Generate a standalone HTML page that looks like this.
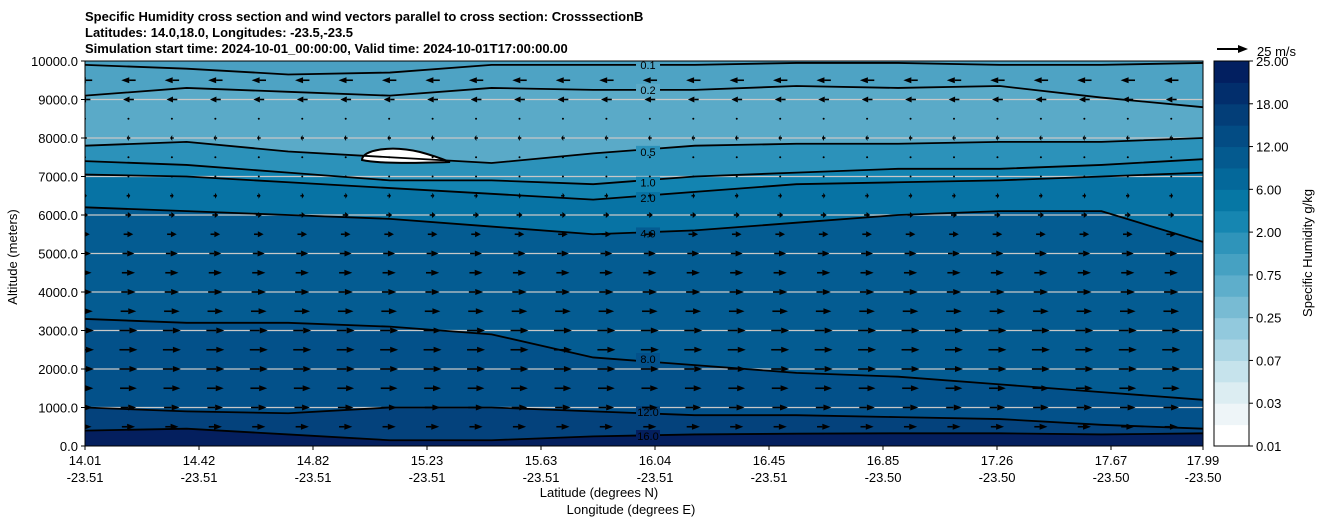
<!DOCTYPE html>
<html><head><meta charset="utf-8"><style>
body{margin:0;background:#fff;}
svg{display:block;font-family:"Liberation Sans","DejaVu Sans",sans-serif;}
</style></head><body>
<svg id="chart" width="1326" height="526" viewBox="0 0 1326 526" xmlns="http://www.w3.org/2000/svg">
<g font-size="13" font-weight="bold" fill="#000">
<text x="85" y="21">Specific Humidity cross section and wind vectors parallel to cross section: CrosssectionB</text>
<text x="85" y="37">Latitudes: 14.0,18.0, Longitudes: -23.5,-23.5</text>
<text x="85" y="53">Simulation start time: 2024-10-01_00:00:00, Valid time: 2024-10-01T17:00:00.00</text>
</g>
<defs><clipPath id="pc"><rect x="85" y="61" width="1118" height="385"/></clipPath></defs>
<g id="fills" clip-path="url(#pc)"></g>
<g id="grid"></g>
<g id="lines" clip-path="url(#pc)"></g>
<g id="quiver" clip-path="url(#pc)"></g>
<g id="axes"></g>
<g id="cbar"></g>
<text x="13" y="253" font-size="13" transform="rotate(-90 17 253)" text-anchor="middle">Altitude (meters)</text>
<text x="599" y="497" font-size="13" text-anchor="middle">Latitude (degrees N)</text>
<text x="631" y="514" font-size="13" text-anchor="middle">Longitude (degrees E)</text>
<text x="1312" y="253" font-size="13" transform="rotate(-90 1312 253)" text-anchor="middle">Specific Humidity g/kg</text>
<g>
<line x1="1217" y1="49" x2="1240" y2="49" stroke="#000" stroke-width="2"/>
<polygon points="1248,49 1238,45 1238,53" fill="#000"/>
<text x="1257" y="56" font-size="13">25 m/s</text>
</g>
</svg>
<script>
const latLabels=["14.01","14.42","14.82","15.23","15.63","16.04","16.45","16.85","17.26","17.67","17.99"];
const lonLabels=["-23.51","-23.51","-23.51","-23.51","-23.51","-23.51","-23.51","-23.50","-23.50","-23.50","-23.50"];
const yTicks=[0,1000,2000,3000,4000,5000,6000,7000,8000,9000,10000];
const cbLevels=[0.01,0.02,0.03,0.05,0.07,0.1,0.25,0.5,0.75,1,2,4,6,8,12,16,18,20,25];
const cbLabels=["0.01","0.03","0.07","0.25","0.75","2.00","6.00","12.00","18.00","25.00"];
const cbColors=["#ffffff","#eef5f8","#dcedf2","#c6e3ec","#acd6e4","#92c9dd","#78bbd3","#5eaecb","#46a1c2","#2f94ba","#1686b1","#0677a4","#04689a","#045a8f","#034c84","#033e78","#022e6c","#021f60","#020f52"];
const contourLevels=["0.1","0.2","0.5","1.0","2.0","4.0","8.0","12.0","16.0"];
const c01=[9900,9800,9650,9700,9900,9900,9900,9950,9950,9900,9900,9950];
const c02=[9100,9300,9200,9100,9300,9250,9250,9350,9300,9350,9050,8800];
const c05=[7800,7900,7650,7500,7350,7600,7800,7850,7850,7900,7900,8000];
const c10=[7400,7300,7100,6900,6900,6800,7000,7100,7200,7200,7300,7450];
const c20=[7050,7000,6850,6700,6550,6400,6600,6800,6850,6900,7000,7100];
const c40=[6200,6100,6000,5900,5700,5500,5600,5800,6000,6100,6100,5300];
const c80=[3300,3200,3200,3100,2900,2300,2100,1900,1800,1600,1400,1200];
const c120=[1000,900,850,1000,1000,900,800,800,750,700,550,450];
const c160=[400,450,300,150,150,250,300,320,330,330,300,330];
const regionColors=["#4ea3c4","#5aaac8","#2c92ba","#1384b1","#0773a4","#045c92","#03518a","#04427c","#041f5e"];
const windAlts=[500,1000,1500,2000,2500,3000,3500,4000,4500,5000,5500,6000,6500,7000,7500,8000,8500,9000,9500];
const windU=[11,13,14,15,15,15,13,12,11,10,8,5,3,1,0.5,-3,-1,-9,-12];

const NS="http://www.w3.org/2000/svg";
const X0=85,X1=1203,Y0=446,Y1=61;
const xS=i=>X0+(X1-X0)*i/11;
const xT=i=>i<10?X0+114*i:X1;
const yS=a=>Y0-(Y0-Y1)*a/10000;
function mk(t,at,p){const e=document.createElementNS(NS,t);for(const k in at)e.setAttribute(k,at[k]);p.appendChild(e);return e;}
const contours=[c01,c02,c05,c10,c20,c40,c80,c120,c160];
const fills=document.getElementById('fills');
let bg=mk('rect',{x:X0,y:Y1,width:X1-X0,height:Y0-Y1,fill:"#4aa0c2"},fills);


function pts(arr){return arr.map((a,i)=>xS(i)+','+yS(a)).join(' ');}
contours.forEach((c,k)=>{
  const poly=mk('polygon',{points:pts(c)+' '+X1+','+Y0+' '+X0+','+Y0,fill:regionColors[k]},fills);
  
  
});
const blob=mk('path',{d:"M362,160 C362,150 390,145 420,152 C435,156 445,160 450,162 C420,163 380,164 362,160 Z",fill:"#fff",stroke:"#000","stroke-width":2},fills);


const lines=document.getElementById('lines');
contours.forEach((c,k)=>{
  const pl=mk('polyline',{points:pts(c),fill:"none",stroke:"#000","stroke-width":1.8,"stroke-linejoin":"round"},lines);
  
  
  const lx=648, ly=yS(c[5]*0.8+c[6]*0.2);
  const r=mk('rect',{x:lx-12,y:ly-6,width:24,height:12,fill:regionColors[k]},lines);
  
  
  const t=mk('text',{x:lx,y:ly+4,"font-size":11,"text-anchor":"middle",fill:"#000"},lines);
  t.textContent=contourLevels[k];
  
  
});
const grid=document.getElementById('grid');
yTicks.forEach(v=>{if(v===0||v===10000)return;
  const l=mk('line',{x1:X0,x2:X1,y1:yS(v),y2:yS(v),stroke:"#c8c8c8","stroke-width":1.2},grid);
  
  
});
const q=document.getElementById('quiver');
const colStep=43.45,scale=30/25;
windAlts.forEach((alt,r)=>{
  const u=windU[r]*scale,y=yS(alt);
  for(let cx=X0;cx<=X1+1;cx+=colStep){
    const g=mk('g',{},q);
    
    
    if(Math.abs(u)<2){mk('circle',{cx:cx,cy:y,r:1,fill:"#000"},g);continue;}
    const d=Math.sign(u),tip=cx+u/2,tail=cx-u/2,h=Math.min(8,Math.abs(u)*0.6);
    mk('line',{x1:tail,y1:y,x2:tip-d*h,y2:y,stroke:"#000","stroke-width":1.6},g);
    mk('polygon',{points:tip+','+y+' '+(tip-d*h)+','+(y-3)+' '+(tip-d*h)+','+(y+3),fill:"#000"},g);
  }
});
const ax=document.getElementById('axes');
const fr=mk('rect',{x:X0,y:Y1,width:X1-X0,height:Y0-Y1,fill:"none",stroke:"#000","stroke-width":1},ax);


yTicks.forEach(v=>{const y=yS(v);
  mk('line',{x1:X0-4,x2:X0,y1:y,y2:y,stroke:"#000"},ax);
  const t=mk('text',{x:X0-7,y:y+5,"font-size":13,"text-anchor":"end"},ax);
  t.textContent=v.toFixed(1);
  
  
});
latLabels.forEach((l,i)=>{const x=xT(i);
  mk('line',{x1:x,x2:x,y1:Y0,y2:Y0+4,stroke:"#000"},ax);
  const t=mk('text',{x:x,y:465,"font-size":13,"text-anchor":"middle"},ax);
  t.textContent=l;
  
  
  const t2=mk('text',{x:x,y:482,"font-size":13,"text-anchor":"middle"},ax);
  t2.textContent=lonLabels[i];
  
  
});
const cb=document.getElementById('cbar');
const CX=1214,CW=35,nb=cbLevels.length-1,bh=(Y0-Y1)/nb;
for(let i=0;i<nb;i++){
  const r=mk('rect',{x:CX,y:Y0-(i+1)*bh,width:CW,height:bh+0.5,fill:cbColors[i]},cb);
  
  
}
mk('rect',{x:CX,y:Y1,width:CW,height:Y0-Y1,fill:"none",stroke:"#000"},cb);
cbLabels.forEach((l,i)=>{const y=Y0-i*2*bh;
  mk('line',{x1:CX+CW,x2:CX+CW+4,y1:y,y2:y,stroke:"#000"},cb);
  const t=mk('text',{x:CX+CW+7,y:y+5,"font-size":13},cb);
  t.textContent=l;
  
  
});
</script>
</body></html>
